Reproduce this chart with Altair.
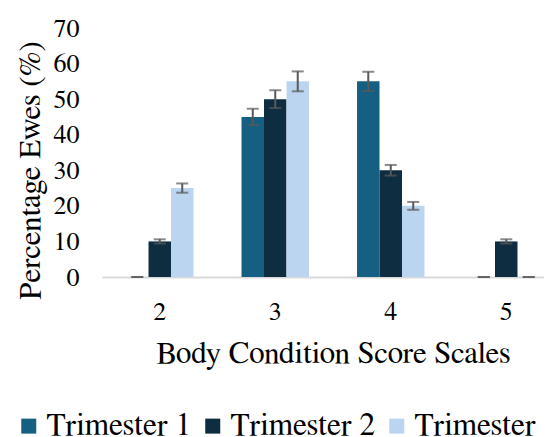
import altair as alt
import pandas as pd

scores = ["2", "3", "4", "5"]
series = ["Trimester 1", "Trimester 2", "Trimester 3"]
t1_values = [0, 45, 55, 0]
t1_errors = [0, 2.3, 2.7, 0]
t2_values = [10, 50, 30, 10]
t2_errors = [0.6, 2.5, 1.5, 0.6]
t3_values = [25, 55, 20, 0]
t3_errors = [1.3, 2.8, 1.1, 0]
colors = ["#156082", "#0E2D41", "#BBD5F0"]
y_ticks = [0, 10, 20, 30, 40, 50, 60, 70]

rows = []
for name, vals, errs in zip(series, [t1_values, t2_values, t3_values],
                            [t1_errors, t2_errors, t3_errors]):
    for s, v, e in zip(scores, vals, errs):
        rows.append({"score": s, "trimester": name, "value": v,
                     "lo": v - e, "hi": v + e})
df = pd.DataFrame(rows)

FONT = "FreeSerif"
ERR = "#595959"

x_enc = alt.X(
    "score:N", sort=scores,
    scale=alt.Scale(range=[0, 462], paddingInner=0.416, paddingOuter=0.208),
    axis=alt.Axis(title="Body Condition Score Scales", labelAngle=0, ticks=False,
                  domainColor="#d9d9d9", domainWidth=2, labelPadding=21,
                  labelFontSize=26, titleFontSize=31, titleX=231, titleY=85,
                  titleBaseline="alphabetic", titleAlign="center",
                  labelFont=FONT, titleFont=FONT),
)
xoff = alt.XOffset("trimester:N", sort=series,
                   scale=alt.Scale(paddingInner=0, paddingOuter=0))
y_axis = alt.Axis(values=y_ticks, title="Percentage Ewes (%)", grid=False,
                  domain=False, ticks=False, labelPadding=23, labelFontSize=26,
                  titleFontSize=31, titleX=-72, titleY=142, titleAngle=270,
                  titleAlign="center", titleBaseline="middle",
                  labelFont=FONT, titleFont=FONT)
y_scale = alt.Scale(domain=[0, 70], nice=False)

base = alt.Chart(df)

bars = base.mark_bar().encode(
    x=x_enc, xOffset=xoff,
    y=alt.Y("value:Q", scale=y_scale, axis=y_axis),
    color=alt.Color("trimester:N", sort=series,
                    scale=alt.Scale(domain=series, range=colors),
                    legend=alt.Legend(orient="none", legendX=-89, legendY=382,
                                      direction="horizontal", title=None,
                                      symbolType="square", symbolSize=225,
                                      symbolStrokeWidth=0, labelFontSize=31.5,
                                      labelFont=FONT, labelOffset=2,
                                      columnPadding=5, labelLimit=400,
                                      labelColor="black")),
)

rule = base.mark_rule(color=ERR, strokeWidth=2).encode(
    x=x_enc, xOffset=xoff,
    y=alt.Y("lo:Q", scale=y_scale, axis=y_axis), y2="hi:Q",
)
tick_lo = base.mark_tick(color=ERR, size=12, thickness=2).encode(
    x=x_enc, xOffset=xoff, y=alt.Y("lo:Q", scale=y_scale, axis=y_axis),
)
tick_hi = base.mark_tick(color=ERR, size=12, thickness=2).encode(
    x=x_enc, xOffset=xoff, y=alt.Y("hi:Q", scale=y_scale, axis=y_axis),
)

chart = alt.layer(bars, rule, tick_lo, tick_hi).properties(
    width=442, height=249,
    autosize=alt.AutoSizeParams(type="none"),
    padding={"left": 94, "top": 20, "right": 0, "bottom": 160},
).configure_view(stroke=None).configure_axis(
    labelColor="black", titleColor="black", titleFontWeight="normal",
)

chart.save("out.html", embed_options={"renderer": "svg", "actions": False})
